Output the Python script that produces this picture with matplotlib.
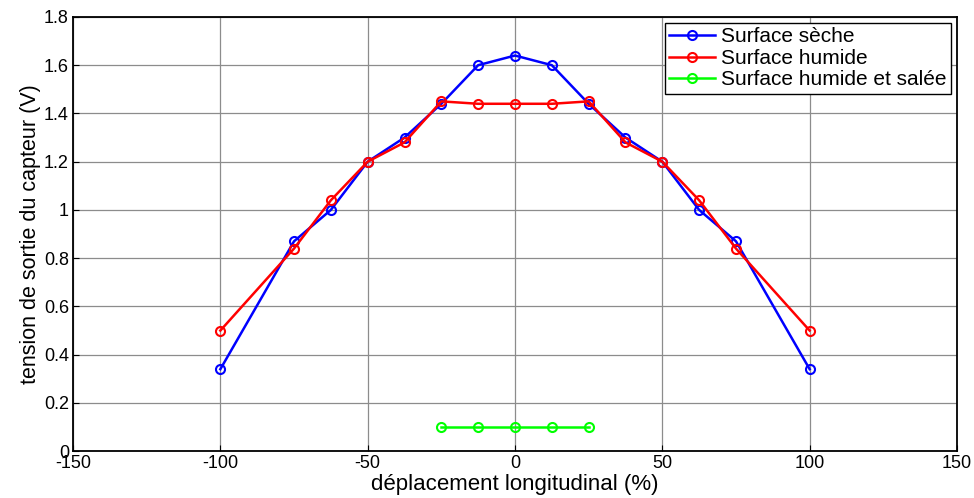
import matplotlib
matplotlib.use("Agg")
import matplotlib.pyplot as plt

x_main = [-100, -75, -62.5, -50, -37.5, -25, -12.5, 0, 12.5, 25, 37.5, 50, 62.5, 75, 100]
y_seche = [0.34, 0.87, 1.00, 1.20, 1.30, 1.44, 1.60, 1.64, 1.60, 1.44, 1.30, 1.20, 1.00, 0.87, 0.34]
y_humide = [0.50, 0.84, 1.04, 1.20, 1.28, 1.45, 1.44, 1.44, 1.44, 1.45, 1.28, 1.20, 1.04, 0.84, 0.50]
x_salee = [-25, -12.5, 0, 12.5, 25]
y_salee = [0.10, 0.10, 0.10, 0.10, 0.10]

labels = ["Surface sèche", "Surface humide", "Surface humide et salée"]

plt.rcParams['font.family'] = ['Liberation Sans', 'DejaVu Sans']
plt.rcParams['axes.unicode_minus'] = False

fig = plt.figure(figsize=(9.74, 4.98), dpi=100)
ax = fig.add_axes([0.075, 0.094, 0.9075, 0.872])

kw = dict(marker='o', markerfacecolor='none', markersize=6.5, markeredgewidth=1.5, linewidth=1.8)
ax.plot(x_main, y_seche, color='#0000ff', label=labels[0], **kw)
ax.plot(x_main, y_humide, color='#ff0000', label=labels[1], **kw)
ax.plot(x_salee, y_salee, color='#00ff00', label=labels[2], **kw)

ax.set_xlim(-150, 150)
ax.set_ylim(0, 1.8)
ax.set_xticks([-150, -100, -50, 0, 50, 100, 150])
ax.set_yticks([0, 0.2, 0.4, 0.6, 0.8, 1.0, 1.2, 1.4, 1.6, 1.8])
ax.set_yticklabels(['0', '0.2', '0.4', '0.6', '0.8', '1', '1.2', '1.4', '1.6', '1.8'])
ax.grid(True, color='#8c8c8c', linewidth=0.9)
ax.set_axisbelow(True)
ax.tick_params(direction='in', labelsize=13, length=4)
ax.tick_params(axis='x', pad=3)
ax.tick_params(axis='y', pad=3)
for s in ax.spines.values():
    s.set_linewidth(1.3)

ax.set_xlabel('déplacement longitudinal (%)', fontsize=16, labelpad=1)
ax.set_ylabel('tension de sortie du capteur (V)', fontsize=15.5, labelpad=2)

leg = ax.legend(loc='upper right', fontsize=15, fancybox=False, edgecolor='black',
                framealpha=1, borderaxespad=0.3, handlelength=2.2, borderpad=0.2,
                labelspacing=0.12, handletextpad=0.3)
leg.get_frame().set_linewidth(1.0)

fig.savefig('out.png', dpi=100)
